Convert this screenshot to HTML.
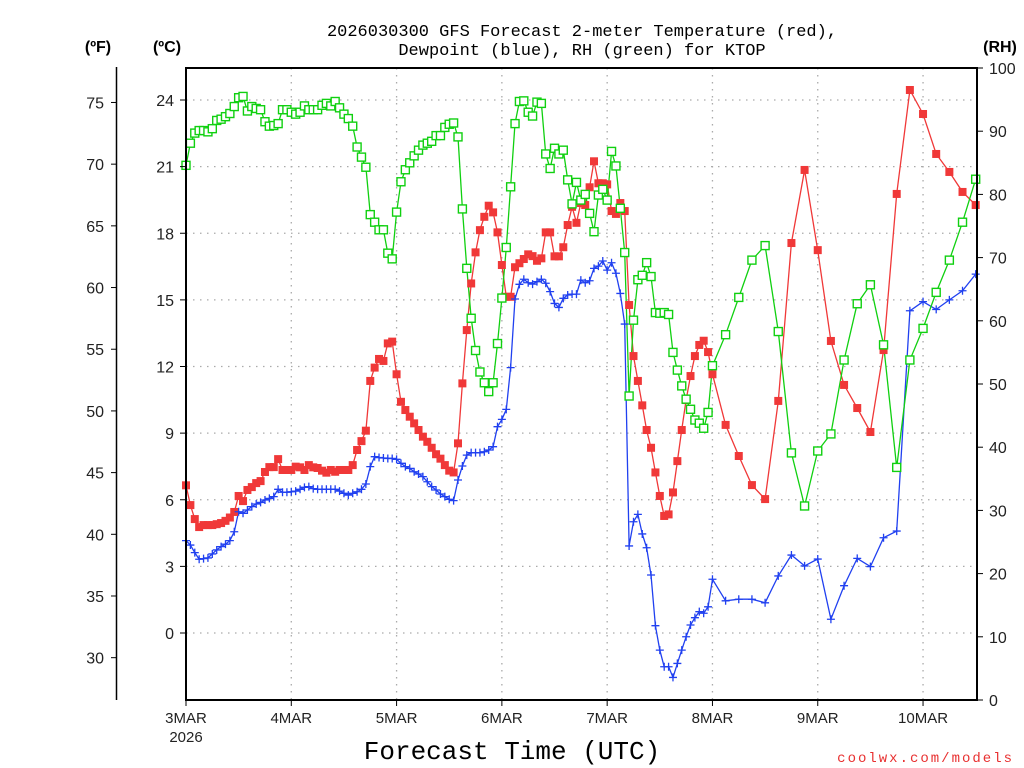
<!DOCTYPE html>
<html><head><meta charset="utf-8"><style>
html,body{margin:0;padding:0;background:#fff;}
svg{display:block;font-family:"Liberation Sans",sans-serif;}
</style></head><body>
<svg id="chart" width="1024" height="768" viewBox="0 0 1024 768" xmlns="http://www.w3.org/2000/svg">
<rect x="0" y="0" width="1024" height="768" fill="#fff"/>
<g id="grid"></g>
<g id="series"></g>
<g id="axes"></g>
<text x="582" y="36" text-anchor="middle" font-size="17" font-family="Liberation Mono, monospace" fill="#000">2026030300 GFS Forecast 2-meter Temperature (red),</text>
<text x="582" y="55" text-anchor="middle" font-size="17" font-family="Liberation Mono, monospace" fill="#000">Dewpoint (blue), RH (green) for KTOP</text>
<text x="98" y="52" text-anchor="middle" font-size="16" font-weight="bold">(ºF)</text>
<text x="167" y="52" text-anchor="middle" font-size="16" font-weight="bold">(ºC)</text>
<text x="1000" y="52" text-anchor="middle" font-size="16" font-weight="bold">(RH)</text>
<text x="512" y="759" text-anchor="middle" font-size="26" font-family="Liberation Mono, monospace" fill="#000">Forecast Time (UTC)</text>
<text x="1014" y="762" text-anchor="end" font-size="14" font-family="Liberation Mono, monospace" letter-spacing="2" fill="#e83030">coolwx.com/models</text>
</svg>
<script>
const hours = [];
for (let h = 0; h <= 120; h++) hours.push(h);
for (let h = 123; h <= 180; h += 3) hours.push(h);

const tempC = [6.65,5.76,5.13,4.77,4.86,4.86,4.86,4.9,4.95,5.05,5.2,5.45,6.17,5.94,6.44,6.57,6.75,6.84,7.25,7.47,7.47,7.83,7.34,7.34,7.34,7.49,7.46,7.34,7.56,7.46,7.43,7.31,7.22,7.34,7.26,7.34,7.34,7.34,7.56,8.24,8.64,9.11,11.35,11.95,12.34,12.25,13.04,13.12,11.65,10.41,10.04,
9.74,9.44,9.14,8.84,8.61,8.34,8.05,7.85,7.56,7.31,7.23,8.54,11.24,13.64,15.74,17.14,18.14,18.74,19.24,18.94,18.04,16.57,15.14,15.14,16.47,16.65,16.84,17.05,16.97,16.76,16.87,18.04,18.04,16.96,16.96,17.37,18.37,19.19,18.47,19.36,19.27,20.07,21.24,20.25,20.25,20.2,
19.0,18.87,19.36,19.0,14.77,12.47,11.35,10.25,9.14,8.34,7.23,6.17,5.27,5.34,6.33,7.74,9.14,10.49,11.57,12.47,12.97,13.16,12.65,11.65,
9.37,7.97,6.66,6.03,10.45,17.56,20.85,17.24,13.15,11.17,10.13,9.05,12.74,19.77,24.45,23.37,21.57,20.76,19.86,19.27];

const dewC = [4.16,3.96,3.62,3.32,3.35,3.38,3.56,3.74,3.89,4.0,4.16,4.56,5.46,5.39,5.54,5.69,5.81,5.88,5.99,6.06,6.14,6.47,6.34,6.34,6.36,6.39,6.47,6.56,6.59,6.5,6.47,6.47,6.47,6.47,6.47,6.39,6.29,6.21,6.29,6.36,6.47,6.71,7.49,7.94,7.9,7.88,7.86,7.86,7.82,7.64,7.49,
7.41,7.26,7.16,7.04,6.81,6.59,6.44,6.26,6.14,6.02,5.96,6.89,7.52,8.01,8.12,8.12,8.12,8.16,8.24,8.39,9.29,9.62,10.07,11.95,15.04,15.70,15.93,15.77,15.71,15.82,15.93,15.75,15.37,14.84,14.66,15.07,15.22,15.26,15.26,15.89,15.77,15.86,16.42,16.52,16.75,16.34,
16.67,16.2,15.29,13.91,3.92,5.01,5.34,4.46,3.84,2.61,0.33,-0.77,-1.52,-1.52,-2.0,-1.37,-0.77,-0.17,0.36,0.69,0.96,0.89,1.18,2.42,
1.45,1.52,1.52,1.36,2.57,3.51,3.02,3.33,0.62,2.13,3.36,2.99,4.29,4.59,14.51,14.92,14.57,15.0,15.41,16.16];

const rhPct = [84.6,88.1,89.7,90.1,90.1,89.9,90.4,91.7,91.9,92.3,92.8,93.9,95.3,95.5,93.2,93.9,93.6,93.4,91.5,90.8,90.9,91.2,93.4,93.4,93.0,92.7,93.0,94.0,93.4,93.4,93.4,94.1,94.4,94.0,94.7,93.7,92.7,92.0,90.8,87.5,85.9,84.3,76.8,75.6,74.4,74.4,70.7,69.8,77.2,82.0,83.9,
85.0,86.1,87.0,87.8,88.1,88.4,89.3,89.3,90.6,91.1,91.3,89.1,77.7,68.3,60.4,55.3,51.9,50.2,48.8,50.2,56.4,63.6,71.6,81.2,91.2,94.7,94.8,93.0,92.4,94.6,94.4,86.4,84.1,87.3,86.4,87.0,82.3,78.5,81.9,79.1,80.0,77.0,74.1,79.9,80.8,79.1,
86.8,84.5,77.8,70.8,48.1,60.1,66.5,67.2,69.2,67.0,61.3,61.2,61.3,61.0,55.0,52.2,49.7,47.6,46.0,44.3,43.8,43.0,45.5,52.9,
57.8,63.7,69.6,71.9,58.3,39.1,30.7,39.4,42.1,53.8,62.7,65.7,56.2,36.8,53.8,58.8,64.5,69.6,75.6,82.4];

const dayLabels = ["3MAR","4MAR","5MAR","6MAR","7MAR","8MAR","9MAR","10MAR"];
const cTicks = [0,3,6,9,12,15,18,21,24];
const fTicks = [30,35,40,45,50,55,60,65,70,75];
const rhTicks = [0,10,20,30,40,50,60,70,80,90,100];

const L = 186, R = 977, T = 68, B = 700;
const X = h => L + (h / 180.3) * (R - L);
const Y = c => 633 - c * (533 / 24);
const YF = f => Y((f - 32) / 1.8);
const YR = r => B - r * (B - T) / 100;
const NS = "http://www.w3.org/2000/svg";
function mk(tag, attrs, parent) {
  const e = document.createElementNS(NS, tag);
  for (const k in attrs) e.setAttribute(k, attrs[k]);
  parent.appendChild(e);
  return e;
}
const grid = document.getElementById("grid");
const axes = document.getElementById("axes");
const series = document.getElementById("series");

cTicks.forEach(c => {
  const g = mk("line", {x1: L, x2: R, y1: Y(c), y2: Y(c), stroke: "#aaa", "stroke-width": 1.3, "stroke-dasharray": "1.5 5.5"}, grid);
  
  
  const t = mk("line", {x1: L - 6, x2: L, y1: Y(c), y2: Y(c), stroke: "#000", "stroke-width": 1}, axes);
  
  
  const lb = mk("text", {x: L - 12, y: Y(c) + 6, "text-anchor": "end", "font-size": 16, fill: "#222"}, axes);
  lb.textContent = c;
  
  
});
dayLabels.forEach((d, i) => {
  const x = X(i * 24);
  if (i > 0) {
    const g = mk("line", {x1: x, x2: x, y1: T, y2: B, stroke: "#aaa", "stroke-width": 1.3, "stroke-dasharray": "1.5 5.5"}, grid);
    
    
  }
  const t = mk("line", {x1: x, x2: x, y1: B, y2: B + 6, stroke: "#000", "stroke-width": 1}, axes);
  
  
  const lb = mk("text", {x: x, y: B + 23, "text-anchor": "middle", "font-size": 15, fill: "#222"}, axes);
  lb.textContent = d;
  
  
});
const yr = mk("text", {x: X(0), y: B + 42, "text-anchor": "middle", "font-size": 15, fill: "#222"}, axes);
yr.textContent = "2026";



const fa = mk("line", {x1: 116.5, x2: 116.5, y1: 67, y2: 700, stroke: "#000", "stroke-width": 1.5}, axes);


fTicks.forEach(f => {
  const t = mk("line", {x1: 111, x2: 116, y1: YF(f), y2: YF(f), stroke: "#000", "stroke-width": 1}, axes);
  
  
  const lb = mk("text", {x: 104, y: YF(f) + 6, "text-anchor": "end", "font-size": 16, fill: "#222"}, axes);
  lb.textContent = f;
  
  
});
rhTicks.forEach(r => {
  const t = mk("line", {x1: R, x2: R + 6, y1: YR(r), y2: YR(r), stroke: "#000", "stroke-width": 1}, axes);
  
  
  const lb = mk("text", {x: 989, y: YR(r) + 6, "text-anchor": "start", "font-size": 16, fill: "#222"}, axes);
  lb.textContent = r;
  
  
});
const frame = mk("rect", {x: L, y: T, width: R - L, height: B - T, fill: "none", stroke: "#000", "stroke-width": 2}, axes);



function drawLine(vals, yf, color, name) {
  const pts = vals.map((v, i) => X(hours[i]).toFixed(1) + "," + yf(v).toFixed(1)).join(" ");
  const pl = mk("polyline", {points: pts, fill: "none", stroke: color, "stroke-width": 1.3}, series);
  
  
}
drawLine(tempC, Y, "#f03838", "temperature-line");
drawLine(dewC, Y, "#2040f0", "dewpoint-line");
drawLine(rhPct, YR, "#10d010", "rh-line");
tempC.forEach((v, i) => {
  const m = mk("rect", {x: X(hours[i]) - 4, y: Y(v) - 4, width: 8, height: 8, fill: "#f03838"}, series);
  
  
});
dewC.forEach((v, i) => {
  const x = X(hours[i]), y = Y(v);
  const m = mk("path", {d: `M${x-4},${y}H${x+4}M${x},${y-4}V${y+4}`, stroke: "#2040f0", "stroke-width": 1.3, fill: "none"}, series);
  
  
});
rhPct.forEach((v, i) => {
  const m = mk("rect", {x: X(hours[i]) - 4, y: YR(v) - 4, width: 8, height: 8, fill: "#fff", stroke: "#10d010", "stroke-width": 1.4}, series);
  
  
});
</script>
</body></html>
